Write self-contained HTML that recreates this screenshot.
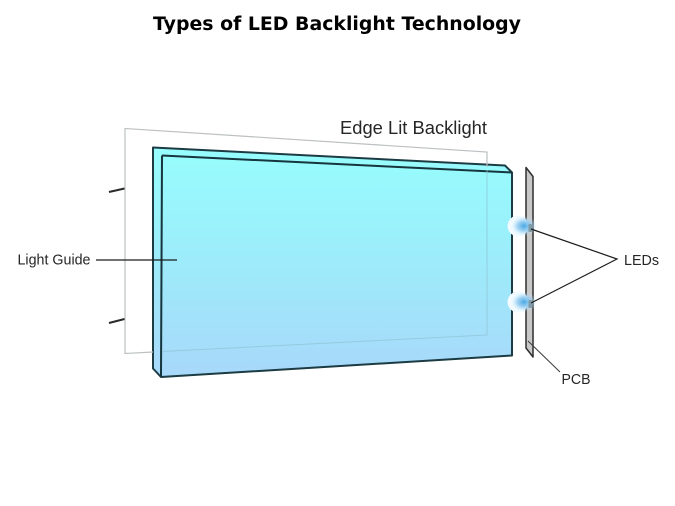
<!DOCTYPE html>
<html>
<head>
<meta charset="utf-8">
<style>
html,body{margin:0;padding:0;background:#fff;width:675px;height:506px;overflow:hidden}
svg{display:block}
text{font-family:"Liberation Sans",sans-serif;fill:#262626}
</style>
</head>
<body>
<svg width="675" height="506" viewBox="0 0 675 506" xmlns="http://www.w3.org/2000/svg">
<defs>
<linearGradient id="g" x1="0" y1="0" x2="0" y2="1">
<stop offset="0" stop-color="#97fdfd"/>
<stop offset="0.3" stop-color="#99f3fb"/>
<stop offset="1" stop-color="#a8d8fa"/>
</linearGradient>
<radialGradient id="led" cx="0.5" cy="0.5" r="0.5">
<stop offset="0" stop-color="#4aa8e4"/>
<stop offset="0.5" stop-color="#8cc8f0" stop-opacity="0.8"/>
<stop offset="1" stop-color="#cfeafa" stop-opacity="0"/>
</radialGradient>
<filter id="b" x="-5%" y="-5%" width="110%" height="110%"><feGaussianBlur stdDeviation="0.25"/></filter>
</defs>

<text x="337" y="30" text-anchor="middle" style="font-family:'DejaVu Sans',sans-serif;font-weight:bold;font-size:18.5px;fill:#000" textLength="368" lengthAdjust="spacingAndGlyphs">Types of LED Backlight Technology</text>

<g filter="url(#b)">
<path d="M153 147.500L505 165.500L512 172.500L512 355.500L161 377L153 368.500Z" fill="url(#g)" stroke="#1a3a42" stroke-width="2" stroke-linejoin="round"/>
<path d="M162 155.500L512 172.500M162 155.500L161 377" fill="none" stroke="#12343c" stroke-width="2"/>

<path d="M153 352L125 353.500L125 128.500L487 152L487 167" fill="none" stroke="#bcc0c2" stroke-width="1.200"/>
<path d="M487 170L487 335L162 351.500" fill="none" stroke="#8fc4d6" stroke-opacity="0.75" stroke-width="1"/>

<path d="M109 192L124.500 188.500M109 323L124.500 319" stroke="#2a2a2a" stroke-width="2" fill="none"/>

<path d="M526 167.500L533 176.500L533 357L526 348Z" fill="#c8c8c8" stroke="#2e2e2e" stroke-width="1.500" stroke-linejoin="round"/>

<circle cx="518" cy="226" r="10.500" fill="#f2fbff"/>
<circle cx="518" cy="302" r="10.500" fill="#f2fbff"/>
<ellipse cx="524" cy="226" rx="13" ry="10" fill="url(#led)"/>
<ellipse cx="524" cy="302" rx="13" ry="10" fill="url(#led)"/>
<rect x="528.500" y="224" width="3.500" height="8" rx="1" fill="#7f9aa8"/>
<rect x="528.500" y="300" width="3.500" height="8" rx="1" fill="#7f9aa8"/>

<path d="M531 229L617 259L531 303" fill="none" stroke="#1e1e1e" stroke-width="1.200"/>
<path d="M96 260L177 260" stroke="#1a1a1a" stroke-width="1.200" fill="none"/>
<path d="M528 341L560 372" stroke="#404040" stroke-width="1.100" fill="none"/>
</g>

<text x="340" y="134" style="font-size:18.500px" textLength="147" lengthAdjust="spacingAndGlyphs">Edge Lit Backlight</text>
<text x="17.500" y="264.500" style="font-size:14.500px" textLength="73" lengthAdjust="spacingAndGlyphs">Light Guide</text>
<text x="624" y="265" style="font-size:15px" textLength="35" lengthAdjust="spacingAndGlyphs">LEDs</text>
<text x="561.500" y="384" style="font-size:15px" textLength="29" lengthAdjust="spacingAndGlyphs">PCB</text>
</svg>
</body>
</html>
